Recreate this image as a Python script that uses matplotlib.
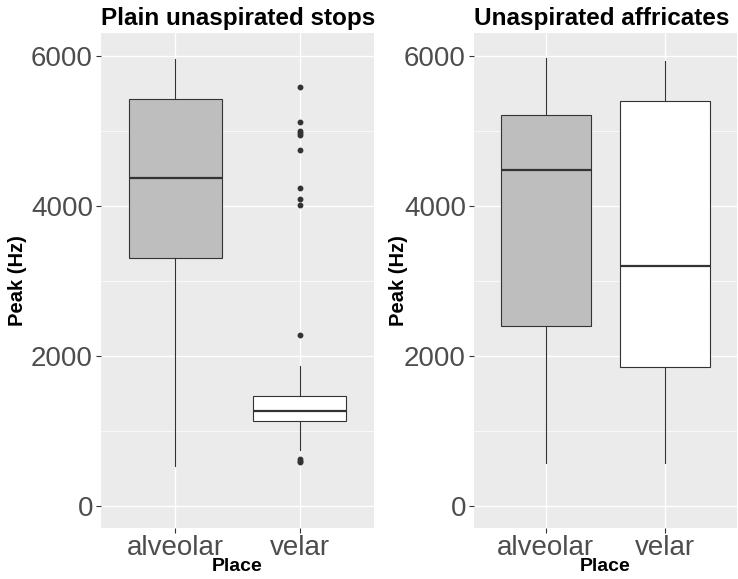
import matplotlib.pyplot as plt
from matplotlib.ticker import MultipleLocator

plt.rcParams['font.family'] = ['Liberation Sans', 'DejaVu Sans']

# Box statistics (Hz)
places = ['alveolar', 'velar']
fills = ['#bebebe', '#ffffff']

stops_whislo = [533, 747]
stops_q1 = [3307, 1137]
stops_med = [4373, 1267]
stops_q3 = [5431, 1467]
stops_whishi = [5960, 1867]
stops_fliers = [[], [5587, 5120, 5000, 4973, 4947, 4747, 4240, 4093, 4013, 2280, 623, 600, 591]]

affr_whislo = [569, 569]
affr_q1 = [2404, 1849]
affr_med = [4480, 3204]
affr_q3 = [5213, 5404]
affr_whishi = [5969, 5938]
affr_fliers = [[], []]

titles = ['Plain unaspirated stops', 'Unaspirated affricates']


def make_stats(lo, q1, med, q3, hi, fl):
    return [dict(whislo=lo[i], q1=q1[i], med=med[i], q3=q3[i], whishi=hi[i],
                 fliers=fl[i], label=places[i]) for i in range(len(places))]


panels = [
    make_stats(stops_whislo, stops_q1, stops_med, stops_q3, stops_whishi, stops_fliers),
    make_stats(affr_whislo, affr_q1, affr_med, affr_q3, affr_whishi, affr_fliers),
]

fig = plt.figure(figsize=(7.38, 5.79), dpi=100)
W, H = 738, 579
# panel edges in pixels: (left, right, y-label centre)
boxes = [(101, 374, 18), (474, 737, 398)]
top, bottom = 33, 528

for k, (stats, title) in enumerate(zip(panels, titles)):
    x0, x1, xlab = boxes[k]
    ax = fig.add_axes([x0 / W, 1 - bottom / H, (x1 - x0) / W, (bottom - top) / H])
    ax.set_facecolor('#ebebeb')
    for s in ax.spines.values():
        s.set_visible(False)

    ax.set_ylim(-293, 6307)
    ax.set_xlim(0.4, 2.6)
    ax.yaxis.set_major_locator(MultipleLocator(2000))
    ax.yaxis.set_minor_locator(MultipleLocator(1000))
    ax.grid(which='major', color='white', linewidth=1.0)
    ax.grid(which='minor', axis='y', color='white', linewidth=0.5)
    ax.set_axisbelow(True)

    bp = ax.bxp(stats, positions=[1, 2], widths=0.75, patch_artist=True,
                showfliers=True,
                boxprops=dict(edgecolor='#333333', linewidth=0.8),
                whiskerprops=dict(color='#333333', linewidth=0.8),
                capprops=dict(visible=False),
                medianprops=dict(color='#333333', linewidth=1.6),
                flierprops=dict(marker='o', markersize=3.2, markerfacecolor='#333333',
                                markeredgecolor='#333333'))
    for patch, c in zip(bp['boxes'], fills):
        patch.set_facecolor(c)

    ax.set_xticks([1, 2])
    ax.set_xticklabels(places)
    ax.tick_params(axis='both', which='major', labelsize=20, labelcolor='#4d4d4d',
                   color='#333333', length=3.8, width=0.8)
    ax.tick_params(axis='x', pad=1)
    ax.tick_params(axis='y', pad=2)
    ax.tick_params(which='minor', length=0)

    ax.set_title(title, loc='left', fontsize=17.5, fontweight='bold', pad=5.5)
    ax.set_xlabel('Place', fontsize=14, fontweight='bold', labelpad=-2)
    ax.set_ylabel('Peak (Hz)', fontsize=14.5, fontweight='bold', va='center')
    ax.yaxis.set_label_coords((xlab - x0) / (x1 - x0), 0.5)

fig.savefig('out.png', dpi=100)
